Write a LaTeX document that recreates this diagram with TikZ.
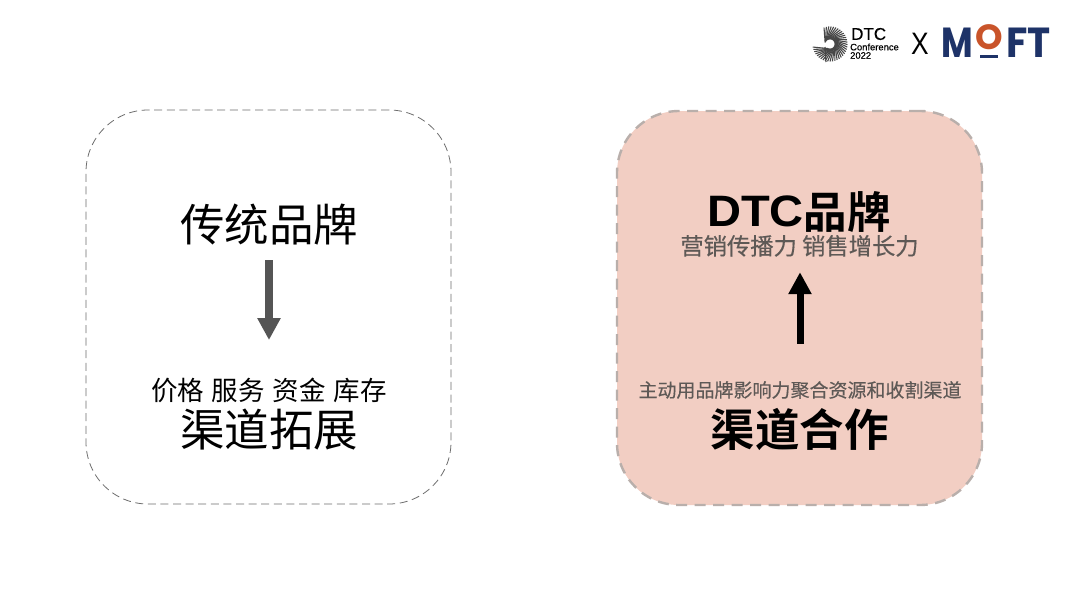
\documentclass[tikz,border=0pt]{standalone}
\usepackage{fontspec}
\usetikzlibrary{arrows.meta,calc}
\setmainfont{Liberation Sans}
\newfontfamily\cjk{Noto Sans CJK SC}[BoldFont={Noto Sans CJK SC Bold}]
\newfontfamily\cjkmed{Noto Sans CJK SC}[FakeBold=0.35]
\newfontfamily\widebold{Liberation Sans}[BoldFont={Liberation Sans Bold},BoldFeatures={FakeStretch=1.07}]
\newfontfamily\logomed{Liberation Sans}[FakeBold=0.3]
\newfontfamily\logofont{Poppins}[BoldFont={Poppins Bold}]
\definecolor{softgray}{HTML}{5E5956}
\definecolor{arrowgray}{HTML}{555555}
\definecolor{panelpink}{HTML}{F2CEC3}
\definecolor{dashpink}{HTML}{B9AFAB}
\definecolor{dashgray}{HTML}{6E6E6E}
\definecolor{moftblue}{HTML}{1E3368}
\definecolor{moftorange}{HTML}{C9542A}
\tikzset{
  panel/.style={minimum width=365pt,minimum height=394pt,rounded corners=62pt,inner sep=0pt},
  plainpanel/.style={panel,draw=dashgray,line width=.8pt,dash pattern=on 8pt off 4.6pt},
  pinkpanel/.style={panel,fill=panelpink,draw=dashpink,line width=2.4pt,dash pattern=on 11pt off 7.5pt},
  bigtext/.style={inner sep=0pt,text height=39pt,text depth=5.5pt,font=\fontsize{44.5pt}{44.5pt}\cjk},
  boldbig/.style={inner sep=0pt,text height=38.7pt,text depth=5.3pt,font=\fontsize{43.5pt}{44pt}\bfseries},
  midtext/.style={inner sep=0pt,text height=23pt,text depth=3pt,font=\fontsize{26.5pt}{26.5pt}\cjk},
  greymid/.style={inner sep=0pt,text height=20.2pt,text depth=2.8pt,font=\fontsize{23.3pt}{23.3pt}\cjkmed,text=softgray},
  greysmall/.style={inner sep=0pt,text height=16.7pt,text depth=2.3pt,font=\fontsize{19pt}{19pt}\cjkmed,text=softgray},
  downarrow/.style={draw=arrowgray,line width=8pt,-{Triangle[length=22pt,width=22pt]}},
  uparrow/.style={draw=black,line width=7pt,-{Triangle[length=22pt,width=22pt]}},
  logotext/.style={inner sep=0pt,anchor=west},
  moft/.style={inner sep=0pt,text=moftblue,font=\fontsize{42pt}{42pt}\logofont\bfseries},
  ray/.style={line width=1.1pt,draw=black!72}
}
\begin{document}
\begin{tikzpicture}[x=1pt,y=-1pt]
\useasboundingbox (0,0) rectangle (1080,608);
\fill[white] (0,0) rectangle (1080,608);

\node[plainpanel] (leftbox) at (268.5,307) {};
\node[pinkpanel] (rightbox) at (799.5,308) {};

\node[bigtext] (trad) at (269,225) {传统品牌};
\node[midtext] (costs) at (269,390) {价格\hspace{8pt}服务\hspace{8pt}资金\hspace{8pt}库存};
\node[bigtext] (chanleft) at (269,430) {渠道拓展};
\draw[downarrow,shorten <=12.75pt,shorten >=36.75pt] (trad.south) -- (costs.north);

\node[boldbig] (dtc) at (799,212) {\raisebox{2pt}{\fontsize{44pt}{44pt}\widebold\bfseries DTC}{\cjk 品牌}};
\node[greymid] (growth) at (799.5,246) {营销传播力 销售增长力};
\node[greysmall] (active) at (800,390) {主动用品牌影响力聚合资源和收割渠道};
\node[bigtext,font=\fontsize{44.5pt}{44.5pt}\cjk\bfseries] (chanright) at (799.5,430) {渠道合作};
\draw[uparrow,shorten <=36.5pt,shorten >=14.5pt] (active.north) -- (active.north |- growth.south);

% DTC Conference logo
\coordinate (swirl) at (830,44);
\foreach \a in {-110,-102,...,172}{
  \draw[ray] ($(swirl)+(\a-55:5)$) -- ($(swirl)+(\a:17.5)$);
}
\draw[ray] (825,47) -- (826,62);
\node[logotext,font=\fontsize{17pt}{17pt}\logomed] (dtclogo) at (851,34) {DTC};
\node[logotext,font=\fontsize{9.4pt}{9.4pt}\logomed] (conf) at (850,47) {Conference};
\node[logotext,font=\fontsize{9.4pt}{9.4pt}\logomed] (year) at (850,55.5) {2022};
\node[inner sep=0pt,xscale=.85,font=\fontsize{31pt}{31pt}\selectfont] (cross) at (920,44) {X};

% MOFT logo
\node[moft,anchor=base west,xscale=.82] (mm) at (941,57) {M};
\node[moft,anchor=base,text=moftorange,font=\fontsize{35pt}{35pt}\logofont\bfseries] (oo) at (989.5,49.5) {O};
\node[moft,anchor=base west,xscale=.93] (ft) at (1006,57) {FT};
\fill[moftblue] (980,55) rectangle (998,57.5);
\end{tikzpicture}
\end{document}
